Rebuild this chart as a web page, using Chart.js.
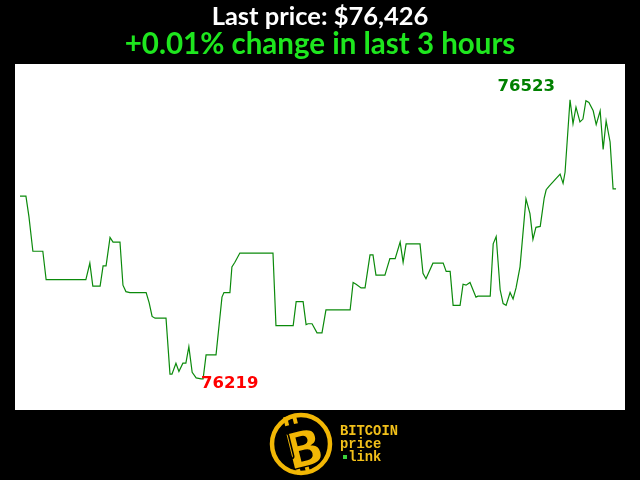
<!DOCTYPE html>
<html>
<head>
<meta charset="utf-8">
<script src="https://cdn.jsdelivr.net/npm/chart.js@4.4.1/dist/chart.umd.min.js"></script>
<style>
  html, body { margin: 0; padding: 0; background: #000; }
  #wrap { position: relative; width: 640px; height: 480px; overflow: hidden; }
  #c { position: absolute; left: 0; top: 0; }
  #logo { position: absolute; left: 0; top: 0; }
</style>
</head>
<body>
<div id="wrap">
<canvas id="c" width="640" height="480"></canvas>
<svg id="logo" width="640" height="480" xmlns="http://www.w3.org/2000/svg">
  <circle cx="301" cy="444" r="29" fill="#000" stroke="#f2b705" stroke-width="4.5"/>
  <g transform="rotate(-14 301 444)">
    <rect x="290" y="414" width="4" height="9" fill="#f2b705"/>
    <rect x="299" y="414" width="4" height="9" fill="#f2b705"/>
    <rect x="290" y="466" width="4" height="7" fill="#f2b705"/>
    <rect x="299" y="466" width="4" height="7" fill="#f2b705"/>
    <text x="303" y="467" text-anchor="middle" font-family="DejaVu Sans" font-weight="bold" font-size="50" fill="#f2b705" stroke="#000" stroke-width="1.5">B</text>
    <rect x="286" y="430" width="5" height="26" rx="2.5" fill="none" stroke="#000" stroke-width="1.6"/>
  </g>
  <g font-family="Liberation Mono" font-weight="bold" font-size="13.8" fill="#f2c01a">
    <text x="340" y="435">BITCOIN</text>
    <text x="340" y="448">price</text>
    <text x="340" y="461">&#160;link</text>
  </g>
  <rect x="343" y="455" width="4" height="4" fill="#3cd23c"/>
</svg>
</div>
<script>
// ---- data ----
const titleText = "Last price: $76,426";
const subtitleText = "+0.01% change in last 3 hours";

// minutes since start of the 3-hour window
const times = [
  0, 1.8, 2.7, 3.9, 6.9, 7.9, 19.9, 21.1, 22.0, 24.2, 25.1, 26.0, 27.2, 28.1, 30.2,
  31.1, 32.0, 33.2, 38.1, 39.0, 39.9, 40.8, 44.1, 45.3, 45.9, 47.1, 48.0, 49.2, 50.1,
  51.0, 52.0, 53.2, 54.7, 55.3, 56.2, 59.2, 61.0, 61.6, 63.4, 64.0, 64.9, 66.4, 76.4,
  77.3, 82.5, 83.4, 85.5, 86.4, 87.0, 88.2, 89.7, 91.2, 92.4, 99.7, 100.6, 101.5,
  103.0, 104.2, 105.7, 106.6, 107.5, 110.2, 111.7, 113.3, 114.8, 115.7, 116.6, 120.8,
  121.7, 122.6, 124.7, 127.8, 128.7, 129.9, 130.8, 132.9, 133.8, 134.7, 135.9, 137.7,
  138.3, 142.0, 142.9, 143.8, 145.0, 145.9, 146.8, 148.0, 148.9, 149.8, 151.0, 152.8,
  154.0, 154.9, 155.8, 157.1, 158.3, 158.9, 159.8, 163.1, 164.0, 164.6, 166.1, 167.0,
  167.9, 169.1, 170.0, 170.9, 171.8, 173.1, 174.0, 175.2, 176.1, 177.0, 178.2, 179.1, 180.0
];
// price in USD
const prices = [
  76418, 76418, 76396, 76358, 76358, 76327, 76327, 76345, 76320, 76320, 76342, 76342, 76373, 76368, 76368,
  76321, 76314, 76313, 76313, 76302, 76287, 76285, 76285, 76224, 76224, 76236, 76227, 76236, 76236,
  76254, 76226, 76220, 76219, 76219, 76245, 76245, 76308, 76313, 76313, 76341, 76346, 76356, 76356,
  76277, 76277, 76303, 76303, 76278, 76279, 76279, 76269, 76269, 76294, 76294, 76324, 76322,
  76318, 76318, 76354, 76354, 76332, 76332, 76350, 76350, 76368, 76346, 76366, 76366,
  76334, 76328, 76345, 76345, 76336, 76336, 76299, 76299, 76322, 76321, 76324, 76308,
  76309, 76309, 76366, 76374, 76316, 76301, 76299, 76313, 76306, 76318, 76341, 76415,
  76399, 76371, 76384, 76385, 76416, 76425, 76429, 76442, 76432, 76444, 76523, 76497,
  76515, 76499, 76502, 76522, 76520, 76511, 76496, 76511, 76469, 76500, 76477, 76426, 76426
];
const yMin = 76185, yMax = 76562;
const xMin = -1.5, xMax = 182.7;

const points = times.map((t, i) => ({ x: t, y: prices[i] }));

const bgPlugin = {
  id: 'bg',
  beforeDraw(chart) {
    const ctx = chart.ctx, a = chart.chartArea;
    ctx.save();
    ctx.fillStyle = '#000';
    ctx.fillRect(0, 0, chart.width, chart.height);
    ctx.fillStyle = '#fff';
    ctx.fillRect(a.left, a.top, a.right - a.left, a.bottom - a.top);
    ctx.restore();
  }
};

const extremaPlugin = {
  id: 'extrema',
  afterDatasetsDraw(chart) {
    const ctx = chart.ctx, xs = chart.scales.x, ys = chart.scales.y;
    let iMin = 0, iMax = 0;
    prices.forEach((p, i) => { if (p < prices[iMin]) iMin = i; if (p > prices[iMax]) iMax = i; });
    ctx.save();
    ctx.font = 'bold 16.5px "DejaVu Sans"';
    // min label
    ctx.fillStyle = '#ff0000';
    ctx.textAlign = 'left';
    ctx.textBaseline = 'top';
    ctx.fillText(String(prices[iMin]), xs.getPixelForValue(times[iMin]), ys.getPixelForValue(prices[iMin]) - 3);
    // max label
    ctx.fillStyle = '#008000';
    ctx.textAlign = 'right';
    ctx.textBaseline = 'alphabetic';
    ctx.fillText(String(prices[iMax]), xs.getPixelForValue(times[iMax]) - 15, ys.getPixelForValue(prices[iMax]) - 9);
    ctx.restore();
  }
};

new Chart(document.getElementById('c'), {
  type: 'line',
  data: {
    datasets: [{
      data: points,
      borderColor: '#0b8a0b',
      borderWidth: 1.2,
      pointRadius: 0,
      tension: 0,
      fill: false
    }]
  },
  options: {
    responsive: false,
    animation: false,
    devicePixelRatio: 1,
    layout: { padding: { left: 15, right: 15, top: 0, bottom: 70 } },
    scales: {
      x: { type: 'linear', min: xMin, max: xMax, display: false },
      y: { type: 'linear', min: yMin, max: yMax, display: false }
    },
    plugins: {
      legend: { display: false },
      tooltip: { enabled: false },
      title: {
        display: true,
        text: titleText,
        color: '#ffffff',
        font: { family: 'Lato', weight: 'bold', size: 25.5, lineHeight: 1.0 },
        padding: { top: 4, bottom: 0 }
      },
      subtitle: {
        display: true,
        text: subtitleText,
        color: '#1ee61e',
        font: { family: 'Lato', weight: 'bold', size: 29.5, lineHeight: 1.0 },
        padding: { top: 0, bottom: 5 }
      }
    }
  },
  plugins: [bgPlugin, extremaPlugin]
});
</script>
</body>
</html>
